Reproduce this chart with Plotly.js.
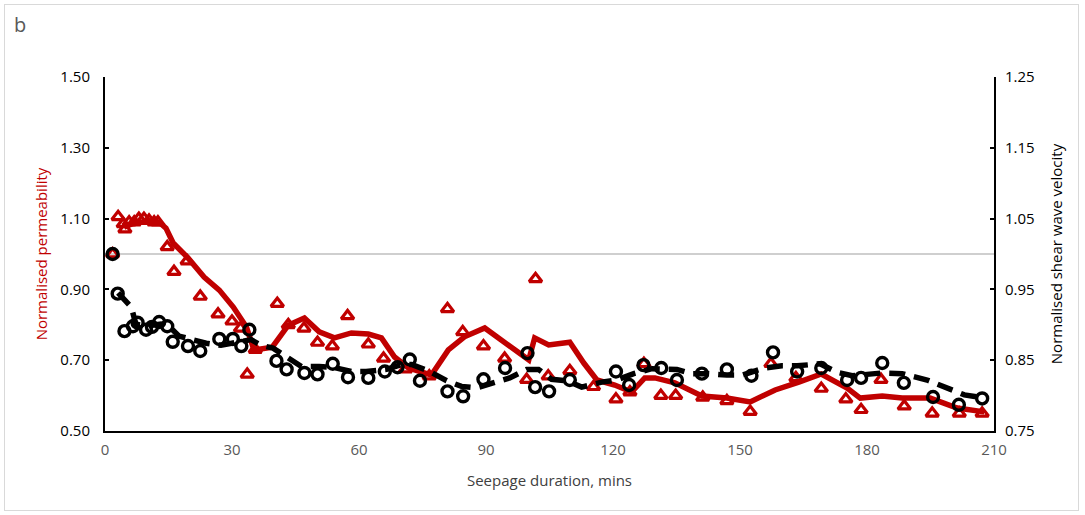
<!DOCTYPE html>
<html>
<head>
<meta charset="utf-8">
<script src="https://cdn.plot.ly/plotly-3.0.1.min.js"></script>
<style>
html,body{margin:0;padding:0;background:#fff;}
#wrap{position:relative;width:1085px;height:515px;}
#frame{position:absolute;left:4px;top:4px;width:1075px;height:507px;border:1px solid #d9d9d9;box-sizing:border-box;pointer-events:none;}
#chart{position:absolute;left:0;top:0;width:1085px;height:515px;}
</style>
</head>
<body>
<div id="wrap"><div id="chart"></div><div id="frame"></div></div>
<script>
// Normalised permeability (left axis) – measured points
const permTime = [1.8,3.1,4.3,4.7,5.7,6.9,8.0,9.2,10.4,11.6,12.5,14.7,16.3,19.4,22.5,26.7,30.0,32.0,33.6,35.5,40.7,43.3,47.0,50.2,53.7,57.3,62.2,65.8,71.0,76.6,80.9,84.5,89.4,94.4,99.6,101.7,104.7,109.8,115.4,120.7,124.0,127.3,131.3,134.8,141.2,146.9,152.4,157.3,163.2,169.2,175.0,178.6,183.3,188.8,195.4,201.8,207.2];
const permVal  = [1.00,1.105,1.085,1.07,1.09,1.09,1.10,1.10,1.095,1.09,1.09,1.02,0.95,0.98,0.88,0.83,0.81,0.79,0.66,0.73,0.86,0.80,0.79,0.75,0.74,0.825,0.745,0.705,0.675,0.655,0.845,0.78,0.74,0.705,0.645,0.93,0.655,0.67,0.625,0.59,0.61,0.69,0.60,0.60,0.595,0.585,0.555,0.69,0.65,0.62,0.59,0.56,0.645,0.57,0.55,0.55,0.55];

// Permeability moving-average trend line
const permTrendTime = [4.5,7.3,12.8,14.4,16.1,19.6,23.4,27.0,30.3,33.4,35.2,39.5,43.3,47.1,50.6,54.2,58.2,62.2,65.3,68.4,71.7,77.1,81.1,84.9,89.7,93.7,100.1,101.5,104.8,109.8,113.1,116.2,120.4,124.4,127.5,129.9,134.6,141.0,146.9,152.4,158.3,163.9,169.2,175.3,178.4,183.6,188.3,194.9,201.3,207.7];
const permTrendVal  = [1.076,1.09,1.09,1.073,1.031,0.989,0.935,0.898,0.850,0.794,0.729,0.737,0.799,0.819,0.780,0.763,0.777,0.774,0.763,0.709,0.678,0.658,0.729,0.766,0.791,0.757,0.701,0.763,0.743,0.751,0.692,0.644,0.630,0.610,0.650,0.650,0.636,0.599,0.593,0.582,0.616,0.638,0.661,0.621,0.593,0.599,0.593,0.593,0.565,0.554];

// Normalised shear wave velocity (right axis) – measured points
const vsTime = [1.8,3.0,4.6,6.6,7.7,9.7,11.1,12.8,14.7,16.0,19.6,22.5,27.0,30.2,32.2,34.1,40.5,42.9,47.1,50.2,53.8,57.4,62.2,66.1,69.1,72.0,74.4,80.9,84.6,89.4,94.5,99.8,101.6,104.9,109.8,120.7,123.8,127.2,131.4,135.1,141.0,146.9,152.7,157.8,163.5,169.2,175.3,178.6,183.6,188.7,195.6,201.7,207.2];
const vsVal  = [1.000,0.944,0.891,0.898,0.903,0.893,0.897,0.904,0.898,0.876,0.870,0.863,0.880,0.880,0.870,0.893,0.849,0.837,0.832,0.830,0.845,0.826,0.825,0.834,0.840,0.851,0.821,0.806,0.799,0.823,0.839,0.860,0.812,0.806,0.822,0.834,0.815,0.843,0.839,0.822,0.831,0.837,0.828,0.861,0.834,0.839,0.822,0.825,0.846,0.818,0.798,0.787,0.796];

// Shear wave velocity moving-average trend line
const vsTrendTime = [3.1,6.2,7.3,9.7,13.2,15.6,17.5,20.3,23.9,27.4,31.0,34.5,36.9,39.7,42.3,46.4,50.6,53.9,58.2,61.7,66.5,70.0,72.4,76.4,80.7,84.2,87.8,91.3,95.6,99.6,102.4,105.5,109.1,112.6,117.3,120.9,124.9,129.2,135.1,138.6,142.2,146.9,150.5,155.7,159.9,163.5,168.9,172.9,176.5,183.6,188.3,194.2,199.0,203.0,207.2];
const vsTrendVal  = [0.945,0.925,0.901,0.898,0.901,0.895,0.884,0.879,0.874,0.871,0.876,0.879,0.871,0.867,0.857,0.841,0.841,0.840,0.834,0.834,0.837,0.844,0.844,0.835,0.821,0.813,0.811,0.817,0.825,0.837,0.837,0.823,0.821,0.812,0.819,0.822,0.831,0.838,0.837,0.831,0.831,0.829,0.829,0.839,0.842,0.842,0.845,0.833,0.828,0.832,0.831,0.822,0.811,0.801,0.797];

const xTicks = [0,30,60,90,120,150,180,210];
const leftTicks = [0.50,0.70,0.90,1.10,1.30,1.50];
const rightTicks = [0.75,0.85,0.95,1.05,1.15,1.25];

const RED = '#c00000';
const FONT = 'Open Sans, Liberation Sans, sans-serif';

const traces = [
  {x: permTime, y: permVal, type:'scatter', mode:'markers', yaxis:'y',
   marker:{symbol:'triangle-up-open', size:11, color:RED, line:{width:3.2, color:RED}}},
  {x: vsTime, y: vsVal, type:'scatter', mode:'markers', yaxis:'y2',
   marker:{symbol:'circle-open', size:11, color:'#000', line:{width:3.4, color:'#000'}}},
  {x: permTrendTime, y: permTrendVal, type:'scatter', mode:'lines', yaxis:'y',
   line:{color:RED, width:5.5}},
  {x: vsTrendTime, y: vsTrendVal, type:'scatter', mode:'lines', yaxis:'y2',
   line:{color:'#000', width:5.5, dash:'16px,9px'}}
];

const layout = {
  width:1085, height:515,
  margin:{l:105, r:91, t:77, b:84},
  paper_bgcolor:'#fff', plot_bgcolor:'#fff',
  showlegend:false,
  font:{family:FONT, size:13, color:'#000'},
  xaxis:{
    range:[0,210], tickvals:xTicks, ticktext:xTicks.map(String),
    showgrid:false, zeroline:false,
    showline:true, linecolor:'#000', linewidth:2,
    ticks:'', ticklabelstandoff:4, tickfont:{size:15, color:'#595959', family:FONT},
    title:{text:'Seepage duration, mins', font:{size:15, color:'#404040', family:FONT}, standoff:17}
  },
  yaxis:{
    range:[0.5,1.5], tickvals:leftTicks, ticktext:leftTicks.map(v=>v.toFixed(2)),
    showgrid:false, zeroline:false,
    showline:true, linecolor:'#000', linewidth:2,
    ticks:'inside', ticklen:4, tickwidth:2, tickcolor:'#000', ticklabelstandoff:10,
    tickfont:{size:15, color:'#000', family:FONT},
    title:{text:'Normalised permeability', font:{size:15, color:RED, family:FONT}, standoff:9}
  },
  yaxis2:{
    range:[0.75,1.25], tickvals:rightTicks, ticktext:rightTicks.map(v=>v.toFixed(2)),
    overlaying:'y', side:'right',
    showgrid:false, zeroline:false,
    showline:true, linecolor:'#000', linewidth:2,
    ticks:'inside', ticklen:4, tickwidth:2, tickcolor:'#000', ticklabelstandoff:6,
    tickfont:{size:15, color:'#000', family:FONT},
    title:{text:'Normalised shear wave velocity', font:{size:15, color:'#000', family:FONT}, standoff:18}
  },
  shapes:[
    {type:'line', xref:'paper', yref:'y', x0:0, x1:1, y0:1.0, y1:1.0,
     line:{color:'#bfbfbf', width:1.5}, layer:'below'}
  ],
  annotations:[
    {text:'b', xref:'paper', yref:'paper', x:-0.105, y:1.147, xanchor:'left', yanchor:'middle',
     showarrow:false, font:{size:20, color:'#595959', family:FONT}}
  ]
};

Plotly.newPlot('chart', traces, layout, {displayModeBar:false, staticPlot:true});
</script>
</body>
</html>
